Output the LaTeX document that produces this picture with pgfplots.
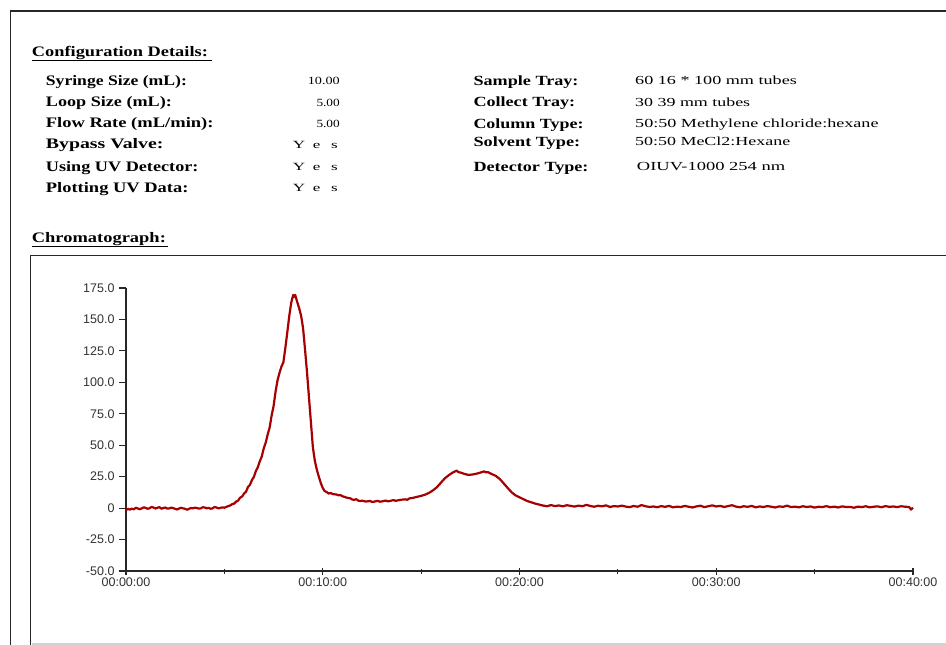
\documentclass[border=0pt]{standalone}
\usepackage{pgfplots}
\pgfplotsset{compat=1.18}
\usepackage{graphicx}
\usepackage{fontspec}
\setmainfont{Liberation Serif}
\newfontfamily\arial{Liberation Sans}
\definecolor{chromred}{RGB}{168,0,0}
\definecolor{framec}{RGB}{40,40,40}
% label: x, baseline y (px from top), width, text
\newcommand\lab[4]{\node[anchor=base west,inner sep=0pt] at (#1pt,-#2pt) {\resizebox{#3pt}{\height}{\fontsize{14.5}{16}\selectfont\bfseries #4}};}
\newcommand\rlab[4]{\node[anchor=base west,inner sep=0pt] at (#1pt,-#2pt) {\resizebox{#3pt}{\height}{\fontsize{14}{16}\selectfont\bfseries #4}};}
\newcommand\val[4]{\node[anchor=base east,inner sep=0pt] at (#1pt,-#2pt) {\resizebox{#3pt}{\height}{\fontsize{11}{13}\selectfont #4}};}
\newcommand\rval[4]{\node[anchor=base west,inner sep=0pt] at (#1pt,-#2pt) {\resizebox{#3pt}{\height}{\fontsize{12.3}{14}\selectfont #4}};}
\newcommand\yes{Y\hspace{5pt}e\hspace{7pt}s}

\pgfplotstableread{
t y
0.0 -1.5
0.1 -0.6
0.2 -1.2
0.3 -0.4
0.4 -1.0
0.5 0.3
0.6 -0.3
0.7 -0.9
0.8 -0.2
0.9 0.6
1.0 0.2
1.1 -0.5
1.2 -0.1
1.3 1.0
1.4 0.4
1.5 -0.3
1.6 0.3
1.7 0.8
1.8 -0.5
1.9 0.1
2.0 0.5
2.1 -0.4
2.2 -0.2
2.3 0.4
2.4 0.0
2.5 -0.6
2.6 -1.1
2.7 -0.3
2.8 0.3
2.9 -0.2
3.0 -0.5
3.1 -1.3
3.2 -0.6
3.3 0.1
3.4 -0.2
3.5 0.4
3.6 0.1
3.7 -0.4
3.8 -0.2
3.9 0.7
4.0 0.5
4.1 -0.1
4.2 0.1
4.3 -0.5
4.4 -0.2
4.5 0.9
4.6 0.5
4.7 -0.2
4.8 0.2
4.9 0.6
5.0 0.3
5.1 1.0
5.2 1.6
5.3 2.1
5.4 3.2
5.5 3.6
5.6 5.2
5.7 6.0
5.8 8.3
5.9 9.2
6.0 11.6
6.1 13.0
6.2 16.8
6.3 18.5
6.4 22.3
6.5 24.8
6.6 29.5
6.7 32.5
6.8 37.2
6.9 41.0
7.0 47.5
7.1 52.0
7.2 58.5
7.3 64.0
7.4 73.5
7.5 81.0
7.6 92.5
7.7 101.5
7.8 107.5
7.9 112.5
8.0 116.0
8.1 127.5
8.2 140.0
8.3 153.0
8.4 163.5
8.5 169.5
8.55 168.0
8.6 169.5
8.7 164.0
8.8 159.0
8.9 153.0
9.0 143.0
9.1 126.0
9.2 108.0
9.3 88.0
9.4 68.0
9.5 48.0
9.6 37.5
9.7 30.5
9.8 25.0
9.9 20.0
10.0 16.0
10.1 13.5
10.2 12.8
10.3 11.6
10.4 12.0
10.5 11.2
10.6 11.0
10.7 10.8
10.8 10.2
10.9 10.4
11.0 9.4
11.1 9.0
11.2 8.4
11.3 8.0
11.4 7.8
11.5 6.8
11.6 6.6
11.7 7.1
11.8 6.0
11.9 5.6
12.0 5.9
12.2 5.2
12.4 5.7
12.5 4.9
12.6 5.1
12.8 5.8
12.9 5.1
13.0 5.3
13.2 6.0
13.3 5.4
13.4 5.6
13.6 6.4
13.7 5.8
13.8 6.1
14.0 6.7
14.2 7.0
14.3 6.6
14.4 7.7
14.6 8.2
14.8 9.0
15.0 9.7
15.2 10.7
15.4 12.1
15.6 14.1
15.8 16.6
16.0 20.1
16.2 23.6
16.4 26.1
16.6 28.2
16.8 29.8
16.9 28.6
17.0 28.3
17.2 27.2
17.4 26.4
17.6 26.7
17.8 27.3
18.0 28.2
18.2 29.2
18.3 28.4
18.4 28.6
18.6 27.0
18.8 25.6
19.0 23.1
19.2 19.6
19.4 16.0
19.6 12.6
19.8 10.1
20.0 8.6
20.2 7.1
20.4 5.6
20.6 4.6
20.8 3.6
21.0 2.8
21.2 2.0
21.4 1.5
21.6 2.4
21.8 1.6
22.0 2.1
22.2 1.4
22.4 2.3
22.6 1.8
22.8 1.2
23.0 2.0
23.2 1.5
23.4 2.6
23.6 1.7
23.8 1.1
24.0 1.9
24.2 1.4
24.4 2.2
24.6 0.9
24.8 1.6
25.0 1.3
25.2 2.0
25.4 1.2
25.6 0.8
25.8 1.7
26.0 1.1
26.2 2.4
26.4 1.5
26.6 0.9
26.8 1.3
27.0 0.7
27.2 1.6
27.4 1.0
27.6 1.8
27.8 0.6
28.0 1.2
28.2 0.9
28.4 1.7
28.6 1.1
28.8 0.5
29.0 1.4
29.2 1.9
29.4 0.8
29.6 1.5
29.8 2.2
30.0 1.3
30.2 1.8
30.4 0.9
30.6 1.6
30.8 2.3
31.0 1.2
31.2 0.7
31.4 1.5
31.6 1.0
31.8 1.8
32.0 0.6
32.2 1.3
32.4 0.9
32.6 1.6
32.8 1.1
33.0 0.5
33.2 1.4
33.4 1.0
33.6 2.0
33.8 0.8
34.0 1.2
34.2 0.6
34.4 1.5
34.6 0.9
34.8 1.3
35.0 0.4
35.2 1.1
35.4 0.8
35.6 1.6
35.8 0.7
36.0 1.2
36.2 0.5
36.4 1.4
36.6 0.9
36.8 1.0
37.0 0.3
37.2 1.2
37.4 0.8
37.6 1.5
37.8 0.6
38.0 1.1
38.2 1.4
38.4 0.7
38.6 1.6
38.8 1.0
39.0 1.3
39.2 0.8
39.4 1.5
39.6 1.1
39.8 0.9
39.9 -1.2
40.0 0.4
}\chromdata

\begin{document}
\begin{tikzpicture}
\useasboundingbox (0,-645pt) rectangle (946pt,0pt);
\fill[white] (0,-645pt) rectangle (946pt,0pt);
% frames
\draw[framec, line width=1.4pt] (10.7pt,-646pt) -- (10.7pt,-11pt) -- (947pt,-11pt);
\draw[framec, line width=1.4pt] (30.5pt,-646pt) -- (30.5pt,-255.5pt) -- (947pt,-255.5pt);
\draw[black!18, line width=1.6pt] (31.5pt,-643.8pt) -- (947pt,-643.8pt);
% headers
\node[anchor=base west,inner sep=0pt] at (31.7pt,-56pt) {\resizebox{176pt}{\height}{\fontsize{14.5}{16}\selectfont\bfseries Configuration Details:}};
\draw[black, line width=1pt] (31.7pt,-60.5pt) -- (211.7pt,-60.5pt);
\node[anchor=base west,inner sep=0pt] at (31.7pt,-242pt) {\resizebox{134pt}{\height}{\fontsize{14.5}{16}\selectfont\bfseries Chromatograph:}};
\draw[black, line width=1pt] (31.7pt,-246.5pt) -- (168.3pt,-246.5pt);
% left labels
\lab{45.7}{85}{141}{Syringe Size (mL):}
\lab{45.7}{106.5}{126}{Loop Size (mL):}
\lab{45.7}{127.5}{167.6}{Flow Rate (mL/min):}
\lab{45.7}{148.5}{117.6}{Bypass Valve:}
\lab{45.7}{171.5}{152.6}{Using UV Detector:}
\lab{45.7}{192.5}{142.6}{Plotting UV Data:}
% left values
\val{340}{84.5}{32}{10.00}
\val{340}{106}{23.3}{5.00}
\val{340}{127}{23.3}{5.00}
\val{338}{148}{45}{\yes}
\val{338}{170.5}{45}{\yes}
\val{338}{191.5}{45}{\yes}
% right labels
\rlab{473.3}{85}{105}{Sample Tray:}
\rlab{473.3}{106.5}{101.7}{Collect Tray:}
\rlab{473.3}{128}{110}{Column Type:}
\rlab{473.3}{146.5}{106.7}{Solvent Type:}
\rlab{473.3}{171.5}{115}{Detector Type:}
% right values
\rval{635}{84.5}{161.7}{60 16 * 100 mm tubes}
\rval{635}{106}{115}{30 39 mm tubes}
\rval{635}{127.5}{243.3}{50:50 Methylene chloride:hexane}
\rval{635}{145.5}{155}{50:50 MeCl2:Hexane}
\rval{636.7}{170.5}{148.3}{OIUV-1000 254 nm}
% chart
\begin{axis}[
  at={(126pt,-571pt)}, anchor=south west,
  scale only axis, width=787pt, height=283pt,
  xmin=0, xmax=40, ymin=-50, ymax=175,
  axis x line=bottom, axis y line=left,
  axis line style={-, line width=1.1pt, black!85},
  xtick={0,10,20,30,40},
  xticklabels={00:00:00,00:10:00,00:20:00,00:30:00,00:40:00},
  minor xtick={5,15,25,35},
  ytick={-50,-25,0,25,50,75,100,125,150,175},
  yticklabels={-50.0,-25.0,0,25.0,50.0,75.0,100.0,125.0,150.0,175.0},
  xtick align=center, ytick align=outside,
  major tick length=7pt, minor tick length=5pt,
  tick style={line width=1.1pt, black!85},
  tick label style={font=\arial\fontsize{12.5}{13}\selectfont, text=black!80},
  yticklabel style={xshift=-1pt},
  clip=false,
]
\addplot[chromred, line width=2.2pt, line join=round] table[x=t,y=y] {\chromdata};
\end{axis}
\end{tikzpicture}
\end{document}
